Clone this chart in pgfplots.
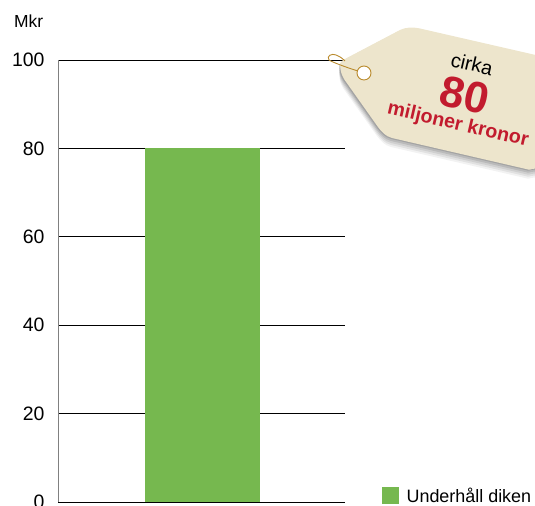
\documentclass[border=0pt]{standalone}
\usepackage{fontspec}
\setmainfont{Liberation Sans}
\usepackage{pgfplots}
\pgfplotsset{compat=1.18}
\definecolor{barGreen}{HTML}{76B84F}
\definecolor{tagCream}{HTML}{EDE5CC}
\definecolor{tagRed}{HTML}{C21B2E}
\definecolor{tagGold}{HTML}{B98A2C}
% reference pixels, y measured downwards from the top
\newcommand{\tagshape}{(343,60) -- (400,30) .. controls (407,27) and (412,27) .. (420,28.5) -- (540,56) -- (540,168) -- (532,169) .. controls (530,170) .. (526,169)
  -- (392,138) .. controls (385,136) and (382,132) .. (378,127) -- (344,79) .. controls (341,73) .. (340,64) -- cycle}
\begin{document}
\begin{tikzpicture}
\useasboundingbox (0,0) rectangle (535bp,506bp);
\begin{scope}[overlay]
\clip (0,0) rectangle (535bp,506bp);
\begin{axis}[
  at={(58bp,4bp)},
  anchor=south west,
  scale only axis,
  width=287bp,
  height=442bp,
  xmin=0, xmax=287,
  ymin=0, ymax=100,
  ytick={0,20,40,60,80,100},
  xtick=\empty,
  ymajorgrids,
  major grid style={black,line width=0.8pt},
  major tick length=0pt,
  axis line style={draw=none},
  tick label style={font=\fontsize{19.5}{19.5}\selectfont},
  /pgf/number format/assume math mode=true,
  yticklabel style={xshift=-10bp},
  clip=false,
  legend style={at={(324bp,-4bp)},anchor=south west,draw=none,fill=none,inner sep=0pt,
    font=\fontsize{18}{18}\selectfont,
    /tikz/every odd column/.append style={column sep=6bp}},
  legend image code/.code={\fill[barGreen] (0,-7bp) rectangle (16bp,9bp);},
  legend cell align=left,
]
\addplot[fill=barGreen,draw=none,ybar interval,forget plot] coordinates {(87,80) (202,80)};
\addlegendimage{barGreen}
\addlegendentry{Underhåll diken}
\draw[gray,line width=1pt] (axis cs:0,0) -- (axis cs:0,100);
\draw[black,line width=1pt] (axis cs:0,0) -- (axis cs:287,0);
\end{axis}
\begin{scope}[x=1bp,y=-1bp,yshift=506bp]
\node[anchor=base west,inner xsep=0pt,font=\fontsize{17.5}{17.5}\selectfont] at (14,28) {Mkr};
% price tag
\foreach \o/\a in {9/0.05,7/0.07,5/0.08,3/0.1,1/0.12}{
  \fill[black,opacity=\a,shift={(-1,\o)}] \tagshape;
}
\fill[tagCream] \tagshape;
\fill[white,draw=tagGold,line width=0.9pt] (364,73) circle (7);
\draw[tagGold,line width=0.9pt] (358,71) .. controls (345,67) and (332,62) .. (329,60)
  .. controls (326,56) and (332,53) .. (336,55) .. controls (339,56) and (342,58) .. (345,61);
\node[rotate=-13,font=\fontsize{20}{20}\selectfont] at (472,64) {cirka};
\node[rotate=-13,font=\fontsize{44}{44}\selectfont\bfseries,text=tagRed] at (465,95) {80};
\node[rotate=-13,font=\fontsize{19.7}{19.7}\selectfont\bfseries,text=tagRed] at (458,125) {miljoner kronor};
\end{scope}
\end{scope}
\end{tikzpicture}
\end{document}
